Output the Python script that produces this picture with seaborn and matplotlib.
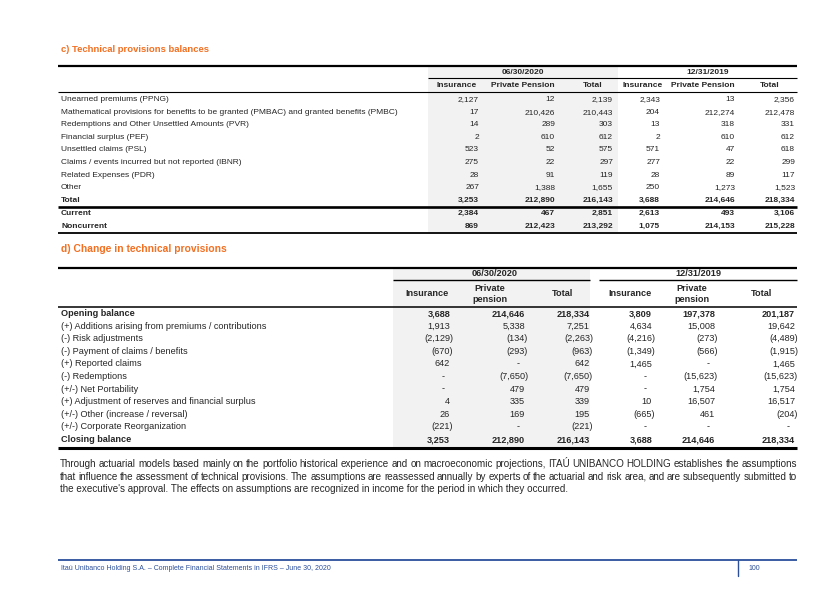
import matplotlib
matplotlib.use("Agg")
import matplotlib.pyplot as plt
from matplotlib.patches import Rectangle
import seaborn as sns

# ---- c) Technical provisions balances ----
c_rows = ["Unearned premiums (PPNG)",
          "Mathematical provisions for benefits to be granted (PMBAC) and granted benefits (PMBC)",
          "Redemptions and Other Unsettled Amounts (PVR)",
          "Financial surplus (PEF)",
          "Unsettled claims (PSL)",
          "Claims / events incurred but not reported (IBNR)",
          "Related Expenses (PDR)",
          "Other",
          "Total",
          "Current",
          "Noncurrent"]
c_ins_2020 = [2127, 17, 14, 2, 523, 275, 28, 267, 3253, 2384, 869]
c_pp_2020 = [12, 210426, 289, 610, 52, 22, 91, 1388, 212890, 467, 212423]
c_tot_2020 = [2139, 210443, 303, 612, 575, 297, 119, 1655, 216143, 2851, 213292]
c_ins_2019 = [2343, 204, 13, 2, 571, 277, 28, 250, 3688, 2613, 1075]
c_pp_2019 = [13, 212274, 318, 610, 47, 22, 89, 1273, 214646, 493, 214153]
c_tot_2019 = [2356, 212478, 331, 612, 618, 299, 117, 1523, 218334, 3106, 215228]
c_cols = ["Insurance", "Private Pension", "Total", "Insurance", "Private Pension", "Total"]

# ---- d) Change in technical provisions ----
d_rows = ["Opening balance",
          "(+) Additions arising from premiums / contributions",
          "(-) Risk adjustments",
          "(-) Payment of claims / benefits",
          "(+) Reported claims",
          "(-) Redemptions",
          "(+/-) Net Portability",
          "(+) Adjustment of reserves and financial surplus",
          "(+/-) Other (increase / reversal)",
          "(+/-) Corporate Reorganization",
          "Closing balance"]
d_ins_2020 = [3688, 1913, -2129, -670, 642, None, None, 4, 26, -221, 3253]
d_pp_2020 = [214646, 5338, -134, -293, None, -7650, 479, 335, 169, None, 212890]
d_tot_2020 = [218334, 7251, -2263, -963, 642, -7650, 479, 339, 195, -221, 216143]
d_ins_2019 = [3809, 4634, -4216, -1349, 1465, None, None, 10, -665, None, 3688]
d_pp_2019 = [197378, 15008, -273, -566, None, -15623, 1754, 16507, 461, None, 214646]
d_tot_2019 = [201187, 19642, -4489, -1915, 1465, -15623, 1754, 16517, -204, None, 218334]
d_cols = ["Insurance", "Private\npension", "Total", "Insurance", "Private\npension", "Total"]

periods = ["06/30/2020", "12/31/2019"]

paragraph_lines = [
    "Through actuarial models based mainly on the portfolio historical experience and on macroeconomic "
    "projections, ITAÚ UNIBANCO HOLDING establishes the assumptions",
    "that influence the assessment of technical provisions. The assumptions are reassessed annually by "
    "experts of the actuarial and risk area, and are subsequently submitted to",
    "the executive's approval. The effects on assumptions are recognized in income for the period in "
    "which they occurred.",
]
footer = "Itaú Unibanco Holding S.A. – Complete Financial Statements in IFRS – June 30, 2020"
page_no = "100"

sns.set_theme(style="white")
plt.rcParams['font.family'] = ['Liberation Sans', 'DejaVu Sans']

ORANGE = "#F36F21"
GRAY = "#F2F2F2"
BLUE = "#2B4F9B"
L, R = 58, 797


def fmt(v):
    if v is None:
        return "-"
    if v < 0:
        return "({:,})".format(-v)
    return "{:,}".format(v)


fig = plt.figure(figsize=(8.4, 5.94), dpi=100)
ax = fig.add_axes([0, 0, 1, 1])
ax.set_xlim(0, 840)
ax.set_ylim(594, 0)
ax.axis("off")


def hline(y, x0=L, x1=R, lw=0.8, color="black"):
    ax.plot([x0, x1], [y, y], color=color, lw=lw, solid_capstyle="butt")


def value(x, y, v, size, bold=False):
    s = fmt(v)
    dx = 0
    if v is None:
        dx = -5
    elif v < 0:
        dx = 3
    ax.text(x + dx, y, s, ha="right", va="center", fontsize=size,
            fontweight="bold" if bold else "normal")


# ---------- section c ----------
ax.text(61, 50, "c) Technical provisions balances", color=ORANGE, fontsize=6.8,
        fontweight="bold", va="center")
ax.add_patch(Rectangle((428, 67), 618 - 428, 232 - 67, color=GRAY, lw=0, zorder=0))
hline(66, lw=1.6)
hline(78, x0=428, lw=0.8)
hline(92, lw=0.8)
ax.text(523, 72.5, periods[0], ha="center", va="center", fontsize=6, fontweight="bold")
ax.text(708, 72.5, periods[1], ha="center", va="center", fontsize=6, fontweight="bold")
c_head_x = [457, 523, 593, 643, 703, 770]
for x, lab in zip(c_head_x, c_cols):
    ax.text(x, 85.5, lab, ha="center", va="center", fontsize=6, fontweight="bold")

c_right = [479, 555, 613, 660, 735, 795]
c_data = [c_ins_2020, c_pp_2020, c_tot_2020, c_ins_2019, c_pp_2019, c_tot_2019]
c_y = [99.5 + 12.6 * i for i in range(9)] + [213.7, 226.3]
for i, lab in enumerate(c_rows):
    bold = i >= 8
    ax.text(61, c_y[i], lab, va="center", fontsize=6,
            fontweight="bold" if bold else "normal")
    for x, col in zip(c_right, c_data):
        value(x, c_y[i], col[i], 6, bold)
hline(207, lw=1.9)
hline(232.5, lw=1.3)

# ---------- section d ----------
ax.text(61, 249, "d) Change in technical provisions", color=ORANGE, fontsize=7.4,
        fontweight="bold", va="center")
ax.add_patch(Rectangle((393, 269), 590 - 393, 447 - 269, color=GRAY, lw=0, zorder=0))
hline(268, lw=1.6)
hline(280, x0=393, x1=590, lw=1.0)
hline(280, x0=599, x1=R, lw=1.0)
ax.text(495, 274, periods[0], ha="center", va="center", fontsize=6.6, fontweight="bold")
ax.text(698, 274, periods[1], ha="center", va="center", fontsize=6.6, fontweight="bold")
d_head_x = [427, 490, 563, 630, 692, 762]
for x, lab in zip(d_head_x, d_cols):
    ax.text(x, 294, lab, ha="center", va="center", fontsize=6.6, fontweight="bold",
            linespacing=1.25)
hline(306.5, lw=1.1)

d_right = [450, 525, 590, 652, 715, 795]
d_data = [d_ins_2020, d_pp_2020, d_tot_2020, d_ins_2019, d_pp_2019, d_tot_2019]
d_y = [313.5 + 12.6 * i for i in range(11)]
for i, lab in enumerate(d_rows):
    bold = i in (0, len(d_rows) - 1)
    ax.text(61, d_y[i], lab, va="center", fontsize=6.6,
            fontweight="bold" if bold else "normal")
    for x, col in zip(d_right, d_data):
        value(x, d_y[i], col[i], 6.6, bold)
hline(447.5, lw=2.2)

# ---------- paragraph (justified) ----------
renderer = fig.canvas.get_renderer()
par_size = 7.1


def width(s):
    t = ax.text(0, 0, s, fontsize=par_size)
    w = t.get_window_extent(renderer).width
    t.remove()
    return w


py = 464
for li, line in enumerate(paragraph_lines):
    if li == len(paragraph_lines) - 1:
        ax.text(60, py, line, fontsize=par_size, va="center")
        break
    words = line.split()
    extra = (R - 60 - width(line)) / (len(words) - 1)
    for k, w in enumerate(words):
        prefix = " ".join(words[:k] + [""]) if k else ""
        x = 60 + (width(prefix + "x") - width("x") if k else 0) + k * extra
        ax.text(x, py, w, fontsize=par_size, va="center")
    py += 12.6

# ---------- footer ----------
hline(559.5, lw=1.3, color=BLUE)
ax.plot([738, 738], [560, 576], color=BLUE, lw=1.0)
ax.text(61, 568.5, footer, fontsize=5.05, color=BLUE, va="center")
ax.text(748, 568.5, page_no, fontsize=5.05, color=BLUE, va="center")

fig.savefig("out.png", dpi=100, facecolor="white")
